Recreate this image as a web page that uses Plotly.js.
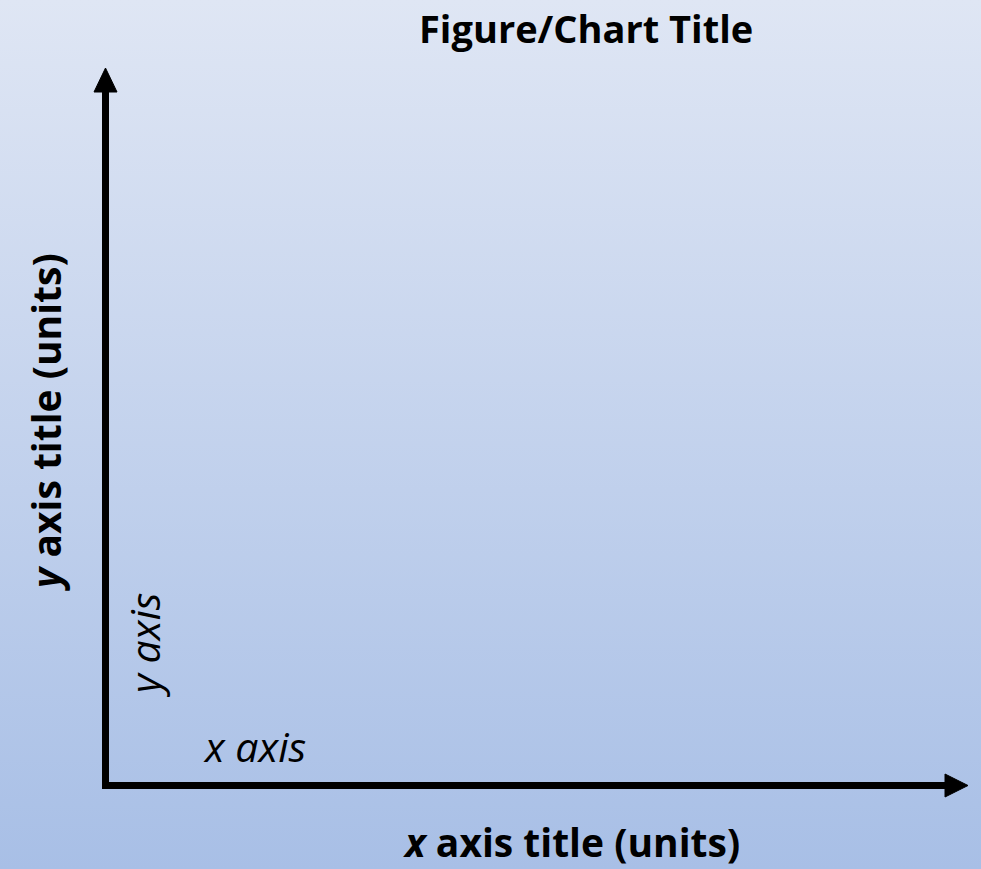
<!DOCTYPE html>
<html>
<head>
<meta charset="utf-8">
<script src="https://cdn.plot.ly/plotly-3.0.1.min.js"></script>
<style>
  html, body { margin: 0; padding: 0; }
  #chart { width: 981px; height: 869px; background: linear-gradient(to bottom, #dfe6f4 0%, #a8bfe6 100%); }
</style>
</head>
<body>
<div id="chart"></div>
<script>
// Labels of the schematic chart (no data series in the reference)
const chartTitle = "<b>Figure/Chart Title</b>";
const xAxisTitle = "<b><i>x</i> axis title (units)</b>";
const yAxisTitle = "<b><i>y</i> axis title (units)</b>";
const xAxisLabel = "<i>x axis</i>";
const yAxisLabel = "<i>y axis</i>";

const W = 981, H = 869;
const px = v => v / W;
const py = v => 1 - v / H;
const FONT = "Open Sans, Lato, sans-serif";

const layout = {
  width: W, height: H,
  margin: {l: 0, r: 0, t: 0, b: 0},
  paper_bgcolor: "rgba(0,0,0,0)",
  plot_bgcolor: "rgba(0,0,0,0)",
  showlegend: false,
  xaxis: {visible: false, range: [0, 1], fixedrange: true},
  yaxis: {visible: false, range: [0, 1], fixedrange: true},
  shapes: [
    // y axis line
    {type: "line", xref: "paper", yref: "paper", x0: px(105.5), x1: px(105.5), y0: py(789), y1: py(90),
     line: {color: "black", width: 7}},
    // y axis arrowhead
    {type: "path", xref: "paper", yref: "paper",
     path: `M ${px(94)} ${py(92)} L ${px(117)} ${py(92)} L ${px(105.5)} ${py(68)} Z`,
     fillcolor: "black", line: {color: "black", width: 1}},
    // x axis line
    {type: "line", xref: "paper", yref: "paper", x0: px(102), x1: px(947), y0: py(785.5), y1: py(785.5),
     line: {color: "black", width: 7}},
    // x axis arrowhead
    {type: "path", xref: "paper", yref: "paper",
     path: `M ${px(945)} ${py(774)} L ${px(945)} ${py(797)} L ${px(968)} ${py(785.5)} Z`,
     fillcolor: "black", line: {color: "black", width: 1}}
  ],
  annotations: [
    {text: chartTitle, xref: "paper", yref: "paper", x: px(586), y: py(28), xanchor: "center", yanchor: "middle",
     showarrow: false, borderpad: 0, font: {family: FONT, size: 38, color: "black"}},
    {text: xAxisTitle, xref: "paper", yref: "paper", x: px(571), y: py(841), xanchor: "center", yanchor: "middle",
     showarrow: false, font: {family: FONT, size: 39, color: "black"}},
    {text: yAxisTitle, xref: "paper", yref: "paper", x: px(45), y: py(422), xanchor: "center", yanchor: "middle",
     textangle: -90, showarrow: false, font: {family: FONT, size: 39, color: "black"}},
    {text: xAxisLabel, xref: "paper", yref: "paper", x: px(255), y: py(746), xanchor: "center", yanchor: "middle",
     showarrow: false, font: {family: FONT, size: 41, color: "black"}},
    {text: yAxisLabel, xref: "paper", yref: "paper", x: px(144), y: py(645), xanchor: "center", yanchor: "middle",
     textangle: -90, showarrow: false, font: {family: FONT, size: 41, color: "black"}}
  ]
};

Plotly.newPlot("chart", [], layout, {displayModeBar: false, staticPlot: true});
</script>
</body>
</html>
